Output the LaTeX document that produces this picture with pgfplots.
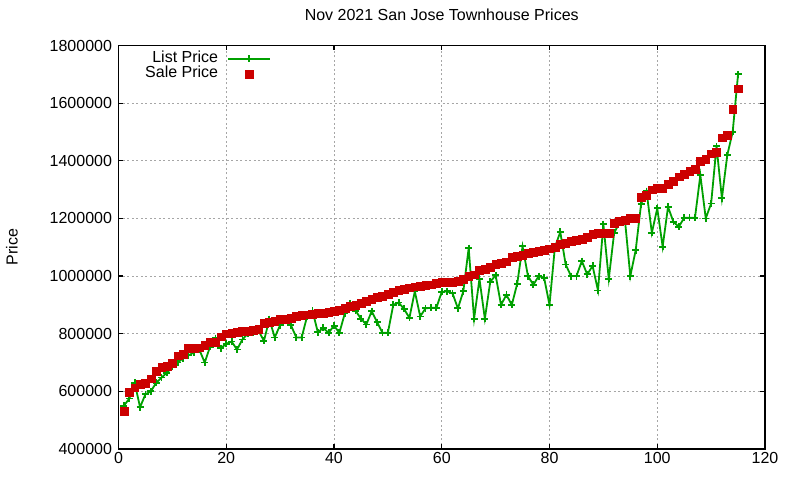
\documentclass[border=0pt]{standalone}
\usepackage{pgfplots}
\usepackage{pgfplotstable}
\pgfplotsset{compat=1.18}
\usepackage{fontspec}
\setmainfont{Liberation Sans}

\definecolor{listgreen}{RGB}{0,160,0}
\definecolor{salered}{RGB}{204,0,0}

\pgfplotsset{gnukey/.style={legend image code/.code={\draw[mark repeat=2,mark phase=2,##1]
      plot coordinates {(0pt,0pt) (21pt,0pt) (42pt,0pt)};}}}

% x = listing number (sorted by sale price), prices in thousands of dollars
\pgfplotstableread{
x list sale
1 550 531
2 575 598
3 630 613
4 545 625
5 590 629
6 600 644
7 630 670
8 648 684
9 665 687
10 685 699
11 700 724
12 715 729
13 725 750
14 735 751
15 745 752
16 700 760
17 755 770
18 785 772
19 750 790
20 765 800
21 773 803
22 745 806
23 780 808
24 800 808
25 805 811
26 810 816
27 775 838
28 850 840
29 787 843
30 830 850
31 845 851
32 830 855
33 787 860
34 787 865
35 860 866
36 880 868
37 805 870
38 820 872
39 803 875
40 828 877
41 803 883
42 870 889
43 905 895
44 880 900
45 852 907
46 832 912
47 878 920
48 840 927
49 803 930
50 803 938
51 900 945
52 908 950
53 886 955
54 855 960
55 947 963
56 860 965
57 888 968
58 890 970
59 890 975
60 945 978
61 947 978
62 940 980
63 888 982
64 947 990
65 1097 1000
66 852 1005
67 990 1020
68 852 1025
69 980 1030
70 1003 1040
71 900 1045
72 935 1050
73 900 1065
74 973 1068
75 1103 1072
76 1000 1080
77 970 1083
78 1000 1086
79 994 1090
80 900 1095
81 1100 1100
82 1153 1110
83 1040 1115
84 1000 1120
85 1000 1125
86 1052 1128
87 1006 1135
88 1035 1145
89 950 1148
90 1180 1150
91 990 1150
92 1150 1185
93 1185 1190
94 1195 1195
95 1000 1200
96 1090 1200
97 1250 1275
98 1295 1280
99 1150 1300
100 1235 1305
101 1102 1305
102 1240 1320
103 1188 1330
104 1171 1345
105 1202 1355
106 1202 1365
107 1202 1370
108 1350 1400
109 1200 1405
110 1252 1425
111 1450 1430
112 1270 1480
113 1420 1490
114 1500 1580
115 1700 1650
}\prices

\begin{document}
\begin{tikzpicture}[font=\fontsize{16}{19}\selectfont]
  \begin{axis}[
      at={(0,0)}, anchor=south west,
      scale only axis, width=646.5pt, height=403.5pt,
      xmin=0, xmax=120, ymin=400000, ymax=1800000,
      xtick={0,20,40,60,80,100,120},
      ytick={400000,600000,800000,1000000,1200000,1400000,1600000,1800000},
      scaled y ticks=false,
      /pgf/number format/assume math mode=true,
      yticklabel style={/pgf/number format/fixed, /pgf/number format/1000 sep={}, xshift=-3pt},
      tick align=inside, major tick length=5pt,
      tick style={black, line width=1.2pt},
      axis line style={line width=1.2pt},
      grid=major,
      major grid style={gray!70, line width=0.8pt, dash pattern=on 2pt off 2.5pt},
      clip mode=individual,
      title={Nov 2021 San Jose Townhouse Prices},
      title style={at={(0.5,1)}, anchor=base, yshift=18.8pt},
      ylabel={Price},
      ylabel style={at={(axis description cs:-0.1647,0.5)}, anchor=center},
      legend plot pos=right, legend cell align=right,
      legend style={draw=none, fill=none, at={(axis description cs:0.041,0.986)},
        anchor=north west, inner sep=0pt, column sep=9pt, row sep=0pt,
        nodes={inner sep=0pt, text height=11.5pt, text depth=3.5pt}},
    ]
    \addplot[listgreen, line width=1.8pt, mark=+, mark size=3.5pt, gnukey]
      table[x=x, y expr=\thisrow{list}*1000] {\prices};
    \addlegendentry{List Price}
    \addplot[only marks, mark=square*, mark size=3.9pt,
      mark options={draw=salered, fill=salered, line width=0.3pt}, gnukey]
      table[x=x, y expr=\thisrow{sale}*1000] {\prices};
    \addlegendentry{Sale Price}
  \end{axis}
  \path (-118.5pt,-31pt) rectangle (681.5pt,449pt);
\end{tikzpicture}
\end{document}
